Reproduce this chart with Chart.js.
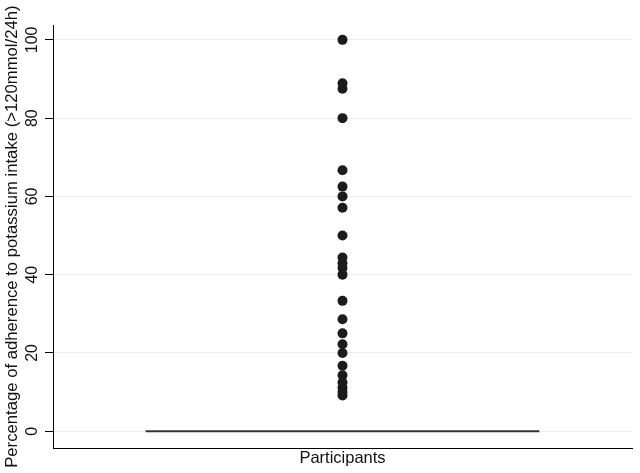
<!DOCTYPE html>
<html>
<head>
<meta charset="utf-8">
<script src="https://cdn.jsdelivr.net/npm/chart.js@4.4.0/dist/chart.umd.min.js"></script>
<style>
  html, body { margin: 0; padding: 0; background: #fff; }
  #wrap { width: 640px; height: 473px; }
</style>
</head>
<body>
<div id="wrap"><canvas id="c" width="640" height="473"></canvas></div>
<script>
// Percentage of adherence values (one per participant)
const adherence = [100, 88.9, 87.5, 80, 66.7, 62.5, 60, 57.1, 50, 44.4, 42.9, 41.7, 40, 33.3, 28.6, 25, 22.2, 20, 16.7, 14.3, 12.5, 11.1, 10, 9.1];
const participantX = 0.5;
// reference line at 0
const refLineX = [0.16, 0.84];
const refLineY = [0, 0];
const yTicks = [0, 20, 40, 60, 80, 100];
const yTitle = 'Percentage of adherence to potassium intake (>120mmol/24h)';
const xTitle = 'Participants';

const FONT = "'Liberation Sans', Arial, Helvetica, sans-serif";

new Chart(document.getElementById('c'), {
  type: 'scatter',
  data: {
    datasets: [
      {
        type: 'line',
        data: refLineX.map((x, i) => ({ x: x, y: refLineY[i] })),
        borderColor: '#333',
        borderWidth: 2,
        pointRadius: 0,
        fill: false
      },
      {
        data: adherence.map(v => ({ x: participantX, y: v })),
        backgroundColor: '#1c1c1c',
        borderColor: '#1c1c1c',
        borderWidth: 0,
        pointRadius: 5,
        pointHoverRadius: 5
      }
    ]
  },
  options: {
    responsive: false,
    animation: false,
    events: [],
    layout: { padding: { top: 25, right: 8, bottom: 5, left: 0 } },
    plugins: { legend: { display: false }, tooltip: { enabled: false } },
    scales: {
      x: {
        type: 'linear',
        min: 0,
        max: 1,
        ticks: { display: false },
        grid: { display: true, drawOnChartArea: false, drawTicks: false, color: 'rgba(0,0,0,0)' },
        border: { display: true, color: '#000', width: 1 },
        title: { display: true, text: xTitle, color: '#111', font: { family: FONT, size: 16.5 }, padding: { top: 0, bottom: 0 } }
      },
      y: {
        type: 'linear',
        min: -4.35,
        max: 103.8,
        afterFit: s => { s.width = 53; },
        afterBuildTicks: s => { s.ticks = yTicks.map(v => ({ value: v })); },
        ticks: {
          minRotation: 90,
          maxRotation: 90,
          crossAlign: 'center',
          padding: -1,
          color: '#111',
          font: { family: FONT, size: 16 }
        },
        grid: { color: '#ececec', tickColor: '#000', tickLength: 8, lineWidth: 1 },
        border: { display: true, color: '#000', width: 1 },
        title: { display: true, text: yTitle, color: '#111', font: { family: FONT, size: 16.7 }, padding: { top: 2, bottom: 0 } }
      }
    }
  }
});
</script>
</body>
</html>
